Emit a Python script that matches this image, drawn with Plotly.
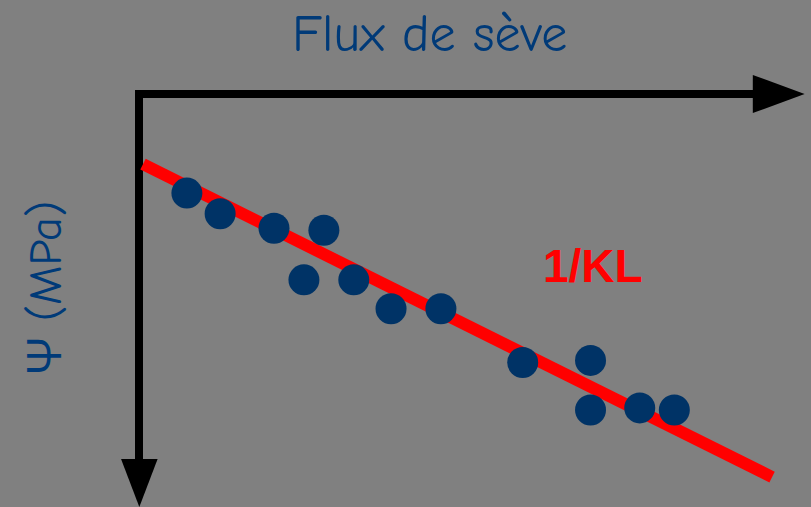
"""Flux de sève vs Ψ (MPa): points + fitted line (slope 1/KL)."""

import plotly.graph_objects as go

# measured points (arbitrary flux units, Ψ in MPa)
flux = [0.72, 1.22, 2.03, 2.78, 2.48, 3.23, 3.79, 4.54, 5.77, 6.79, 6.79, 7.53, 8.05]
psi = [-0.48, -0.58, -0.65, -0.66, -0.90, -0.90, -1.04, -1.04, -1.30, -1.29, -1.53, -1.52, -1.53]

# regression line end points
fit_flux = [0.06, 9.52]
fit_psi = [-0.34, -1.855]

TITLE = "Flux de sève"
YLABEL = "Ψ (MPa)"
SLOPE_LABEL = "1/KL"

BG = "#808080"
BLUE = "#003366"
TXT_BLUE = "#003A78"
HAND_FONT = "Comic Sans MS, Comic Neue, Open Sans, sans-serif"

fig = go.Figure()
fig.add_trace(go.Scatter(
    x=fit_flux, y=fit_psi, mode="lines",
    line=dict(color="#ff0000", width=12), hoverinfo="skip",
))
fig.add_trace(go.Scatter(
    x=flux, y=psi, mode="markers",
    marker=dict(color=BLUE, size=31, line=dict(width=0)),
))

# axes drawn as arrows from the origin
ax = dict(color="black", width=8)
fig.add_shape(type="line", x0=-0.06, y0=0, x1=9.3, y1=0, line=ax, layer="below")
fig.add_shape(type="line", x0=0, y0=0, x1=0, y1=-1.8, line=ax, layer="below")
fig.add_shape(type="path", path="M 9.23,0.092 L 10.01,0 L 9.23,-0.092 Z",
              fillcolor="black", line=dict(width=0))
fig.add_shape(type="path", path="M -0.27,-1.768 L 0.005,-2.0 L 0.28,-1.768 Z",
              fillcolor="black", line=dict(width=0))

fig.add_annotation(x=0.530, y=0.935, xref="paper", yref="paper", yshift=31, text=TITLE,
                   showarrow=False, font=dict(family=HAND_FONT, size=52, color=TXT_BLUE))
fig.add_annotation(x=0.058, y=0.433, xref="paper", yref="paper", xshift=-30, text=YLABEL,
                   textangle=-90, showarrow=False,
                   font=dict(family=HAND_FONT, size=47, color=TXT_BLUE))
fig.add_annotation(x=6.83, y=-0.833, text=f"<b>{SLOPE_LABEL}</b>", showarrow=False,
                   font=dict(family="Liberation Sans, Arial", size=46, color="#ff0000"))

fig.update_layout(
    width=811, height=507,
    paper_bgcolor=BG, plot_bgcolor=BG,
    margin=dict(l=0, r=0, t=0, b=0),
    showlegend=False,
    xaxis=dict(range=[-2.0902, 10.1053], visible=False, fixedrange=True),
    yaxis=dict(range=[-2.0, 0.4552], visible=False, fixedrange=True),
)

fig.write_html("out.html", config={"displayModeBar": False},
               post_script="document.body.style.margin='0';")
